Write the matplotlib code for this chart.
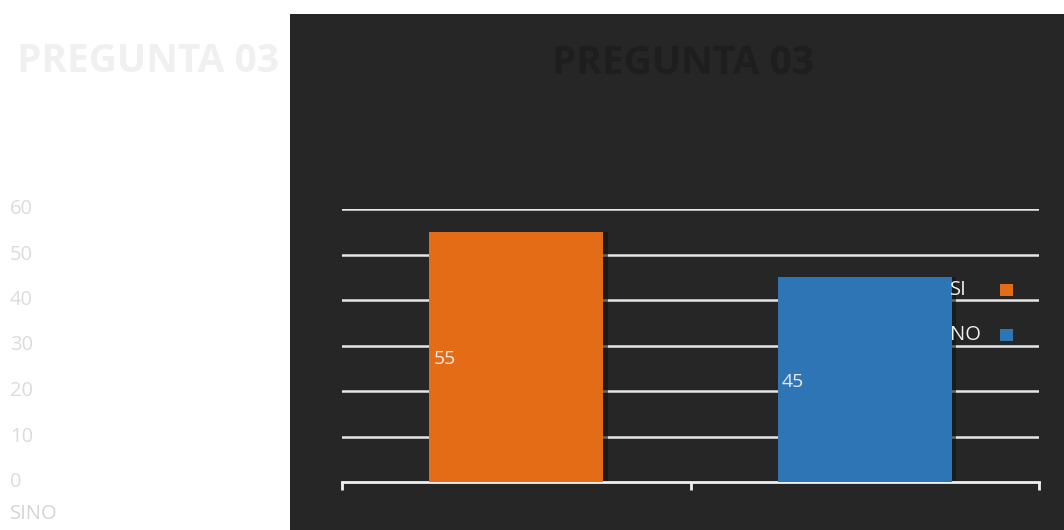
import matplotlib
import matplotlib.pyplot as plt
import matplotlib.transforms as mtransforms
from matplotlib.patches import Rectangle

matplotlib.use("Agg")

title = "PREGUNTA 03"
categories = ["SI", "NO"]
values = [55, 45]
bar_colors = ["#E46C17", "#2E75B6"]
yticks = [0, 10, 20, 30, 40, 50, 60]

W, H = 1064, 530
fig = plt.figure(figsize=(W / 100, H / 100), dpi=100)
fig.patch.set_facecolor("white")

# dark panel on the right
fig.patches.append(Rectangle((290 / W, 0), 1 - 290 / W, (H - 14) / H,
                             transform=fig.transFigure, facecolor="#262626",
                             edgecolor="none", zorder=-5))

ax = fig.add_axes([342 / W, (H - 482) / H, (1039 - 342) / W, (482 - 209) / H])
ax.set_zorder(2)
ax.set_facecolor("none")
ax.set_xlim(-0.5, len(categories) - 0.5)
ax.set_ylim(0, 60)

for yv in yticks[1:]:
    ax.axhline(yv, color="#e6e6e6", lw=1.8, zorder=1)

x = list(range(len(categories)))
# soft shadow behind bars
for xi, v in zip(x, values):
    ax.bar(xi + 0.012, v, width=0.5, color="#151515", alpha=0.6, zorder=2)
bars = ax.bar(x, values, width=0.5, color=bar_colors, zorder=3)

for b, v in zip(bars, values):
    ax.text(b.get_x() + 0.012, v / 2 - 0.5, str(v), ha="left", va="center",
            fontsize=14, color="#e8e8e8", family="Open Sans", zorder=4)

for s in ["top", "right", "left"]:
    ax.spines[s].set_visible(False)
ax.spines["bottom"].set_color("#f0f0f0")
ax.spines["bottom"].set_linewidth(2)
ax.set_xticks([-0.5, 0.5, 1.5])
ax.set_xticklabels([])
ax.tick_params(axis="x", direction="out", length=6, width=2, color="#f0f0f0")
ax.set_yticks([])

# legend drawn by hand: label on the left, square on the right
leg_y = [0.703, 0.538]
for cat, c, ly in zip(categories, bar_colors, leg_y):
    ax.text(0.872, ly, cat, transform=ax.transAxes, ha="left", va="center",
            fontsize=14.5, family="Open Sans", color="#eeeeee", zorder=5)
    ax.add_patch(Rectangle((0.944, ly - 0.022), 0.018, 0.044,
                           transform=ax.transAxes, facecolor=c,
                           edgecolor="none", zorder=5))

# chart title inside the panel
fig.text(683 / W, (H - 64) / H, title, ha="center", va="center", fontsize=28,
         fontweight="bold", family="Open Sans", color="#1e1e1e")

# faint duplicate texts on the white side
fig.text(148 / W, (H - 62) / H, title, ha="center", va="center", fontsize=28,
         fontweight="bold", family="Open Sans", color="#f0f0f0")
trans = mtransforms.blended_transform_factory(fig.transFigure, ax.transData)
for t in yticks:
    fig.text(10 / W, t, str(t), transform=trans, ha="left", va="center",
             fontsize=14.5, family="Open Sans", color="#dcdcdc")
fig.text(10 / W, (H - 514) / H, "".join(categories), ha="left", va="center",
         fontsize=14.5, family="Open Sans", color="#d4d4d4")

fig.savefig("out.png", dpi=100)
